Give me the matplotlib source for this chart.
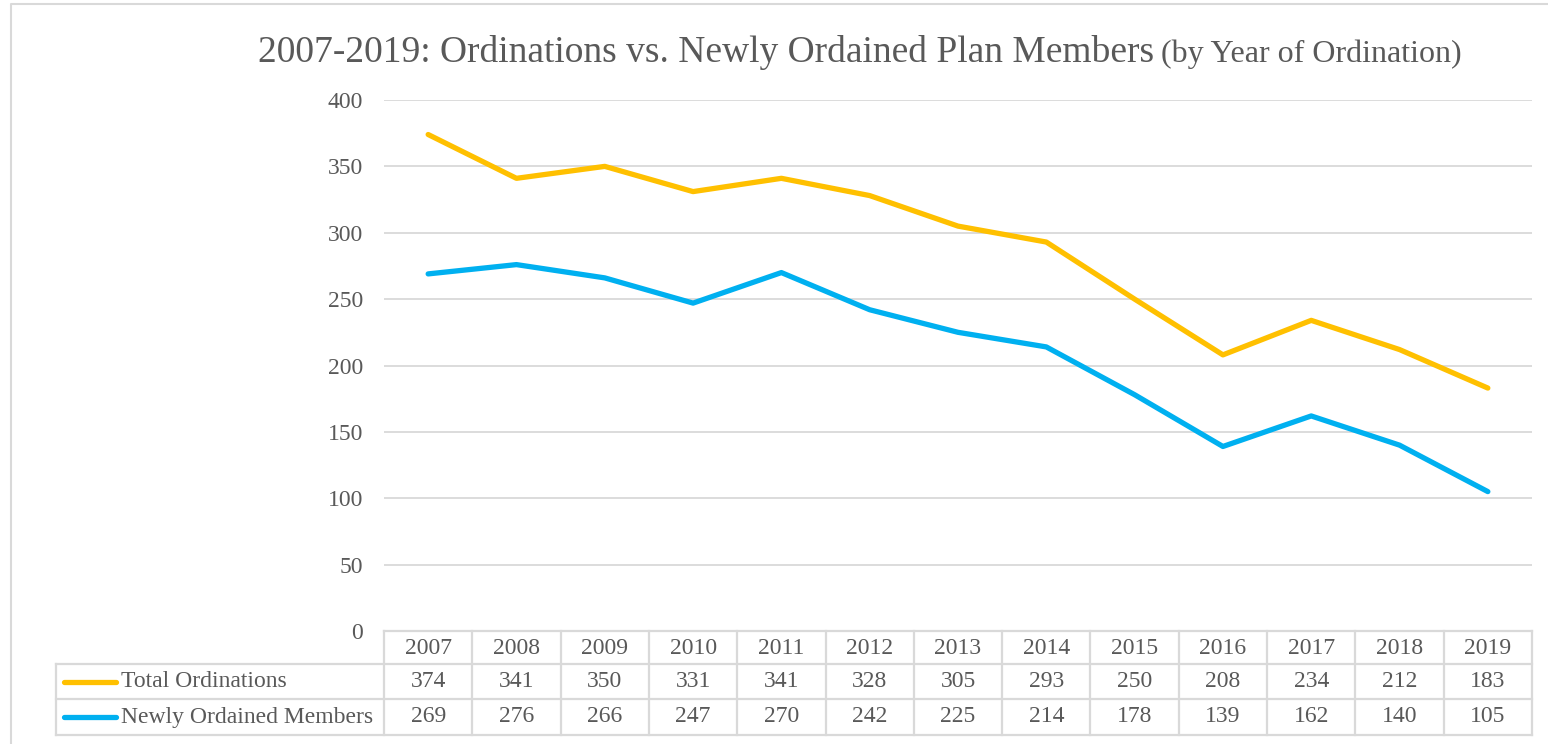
import numpy as np
import matplotlib.pyplot as plt
from matplotlib.transforms import blended_transform_factory

years = ['2007', '2008', '2009', '2010', '2011', '2012', '2013',
         '2014', '2015', '2016', '2017', '2018', '2019']
total_ordinations = [374, 341, 350, 331, 341, 328, 305, 293, 250, 208, 234, 212, 183]
newly_ordained = [269, 276, 266, 247, 270, 242, 225, 214, 178, 139, 162, 140, 105]
series_names = ['Total Ordinations', 'Newly Ordained Members']
series_colors = ['#FFC000', '#00B0F0']
yticks = [0, 50, 100, 150, 200, 250, 300, 350, 400]

W, H = 1548, 744
TXT = '#595959'
GRID = '#D9D9D9'
plt.rcParams['font.family'] = ['Liberation Serif', 'DejaVu Serif']

fig = plt.figure(figsize=(W / 100, H / 100), dpi=100)

# plot area in pixels
x0, x1 = 384, 1532
y_top, y_bot = 100, 631
ax = fig.add_axes([x0 / W, 1 - y_bot / H, (x1 - x0) / W, (y_bot - y_top) / H])

xs = np.arange(len(years))
for vals, name, col in zip([total_ordinations, newly_ordained], series_names, series_colors):
    ax.plot(xs, vals, color=col, lw=3.8, solid_capstyle='round', solid_joinstyle='round', label=name, zorder=3)

ax.set_xlim(-0.5, len(years) - 0.5)
ax.set_ylim(0, 400)
ax.set_yticks(yticks)
ax.set_yticklabels([str(t) for t in yticks])
ax.yaxis.grid(True, color=GRID, lw=1.3)
ax.set_axisbelow(True)
ax.tick_params(axis='y', length=0, pad=15, labelsize=17, labelcolor=TXT)
ax.tick_params(axis='x', length=0, labelbottom=False)
for s in ['top', 'right', 'left', 'bottom']:
    ax.spines[s].set_visible(False)

# data table under the axis
tr = blended_transform_factory(ax.transData, fig.transFigure)
fy = lambda p: 1 - p / H
fx = lambda p: p / W
rows_y = [631, 664, 699, 735]
tkw = dict(color=GRID, lw=1.6, clip_on=False)
for y in rows_y:
    left = x0 if y == 631 else 56
    fig.add_artist(plt.Line2D([fx(left), fx(x1)], [fy(y), fy(y)], **tkw))
for i in range(len(years) + 1):
    fig.add_artist(plt.Line2D([-0.5 + i, -0.5 + i], [fy(631), fy(735)], transform=tr, **tkw))
fig.add_artist(plt.Line2D([fx(56), fx(56)], [fy(664), fy(735)], **tkw))

tsize = 17
for i, yr in enumerate(years):
    fig.text(i, fy(648), yr, transform=tr, ha='center', va='center', fontsize=tsize, color=TXT)
for r, (vals, name, col) in enumerate(zip([total_ordinations, newly_ordained], series_names, series_colors)):
    yc = fy((rows_y[r + 1] + rows_y[r + 2]) / 2)
    for i, v in enumerate(vals):
        fig.text(i, yc, str(v), transform=tr, ha='center', va='center', fontsize=tsize, color=TXT)
    fig.add_artist(plt.Line2D([fx(64), fx(116)], [yc, yc], color=col, lw=3.8, solid_capstyle='round'))
    fig.text(fx(121), yc, name, ha='left', va='center', fontsize=tsize, color=TXT)

# title in two sizes
t1 = fig.text(fx(258), fy(62), '2007-2019: Ordinations vs. Newly Ordained Plan Members',
              ha='left', va='baseline', fontsize=27, color=TXT)
fig.canvas.draw()
bb = t1.get_window_extent()
fig.text(bb.x1 / W + 7 / W, fy(62), '(by Year of Ordination)',
         ha='left', va='baseline', fontsize=23, color=TXT)

# chart border
fig.add_artist(plt.Line2D([fx(11), fx(11), fx(1548)], [fy(744), fy(4), fy(4)], color=GRID, lw=1.5))

plt.savefig('out.png', dpi=100)
